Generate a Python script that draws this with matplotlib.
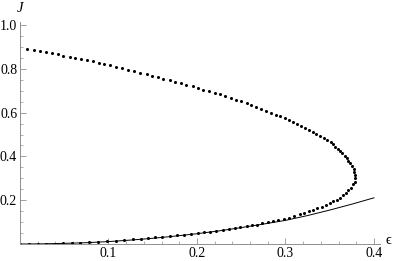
import matplotlib
matplotlib.use("Agg")
import matplotlib.pyplot as plt
from matplotlib.ticker import MultipleLocator

# dotted branch, upper part (from eps=0 down to the turning point)
upper_eps = [0.008, 0.016, 0.023, 0.029, 0.036, 0.043, 0.049, 0.056, 0.062, 0.069,
             0.076, 0.082, 0.089, 0.095, 0.102, 0.108, 0.115, 0.122, 0.129, 0.136,
             0.143, 0.149, 0.156, 0.162, 0.169, 0.175, 0.182, 0.188, 0.195, 0.201,
             0.207, 0.214, 0.220, 0.226, 0.232, 0.238, 0.244, 0.250, 0.256, 0.261,
             0.267, 0.272, 0.278, 0.284, 0.289, 0.294, 0.299, 0.304, 0.308, 0.313,
             0.318, 0.322, 0.327, 0.331, 0.335, 0.339, 0.344, 0.347, 0.351, 0.354,
             0.356, 0.359, 0.362, 0.364, 0.367, 0.369, 0.371, 0.373, 0.375, 0.377,
             0.377, 0.378, 0.379]
upper_J = [0.891, 0.886, 0.881, 0.876, 0.871, 0.866, 0.861, 0.856, 0.850, 0.845,
           0.839, 0.834, 0.828, 0.822, 0.816, 0.810, 0.804, 0.797, 0.790, 0.783,
           0.776, 0.769, 0.762, 0.755, 0.748, 0.741, 0.734, 0.727, 0.720, 0.712,
           0.705, 0.698, 0.690, 0.683, 0.675, 0.667, 0.659, 0.651, 0.642, 0.634,
           0.625, 0.617, 0.608, 0.600, 0.591, 0.583, 0.574, 0.566, 0.557, 0.548,
           0.539, 0.530, 0.521, 0.512, 0.503, 0.494, 0.485, 0.475, 0.465, 0.455,
           0.445, 0.435, 0.425, 0.415, 0.404, 0.393, 0.381, 0.369, 0.356, 0.343,
           0.329, 0.315, 0.300]

# dotted branch, lower part (turning point back to the origin)
lower_eps = [0.378, 0.376, 0.374, 0.371, 0.368, 0.365, 0.362, 0.358, 0.354, 0.350,
             0.346, 0.341, 0.336, 0.331, 0.327, 0.321, 0.316, 0.310, 0.304, 0.298,
             0.292, 0.286, 0.280, 0.274, 0.268, 0.262, 0.256, 0.249, 0.243, 0.236,
             0.229, 0.222, 0.215, 0.208, 0.201, 0.193, 0.185, 0.177, 0.169, 0.161,
             0.153, 0.145, 0.137, 0.128, 0.118, 0.108, 0.098, 0.088, 0.078, 0.068,
             0.059, 0.049, 0.039, 0.029, 0.020, 0.010, 0.000]
lower_J = [0.285, 0.272, 0.258, 0.245, 0.233, 0.222, 0.212, 0.203, 0.195, 0.187,
           0.179, 0.171, 0.163, 0.156, 0.149, 0.142, 0.135, 0.128, 0.121, 0.115,
           0.109, 0.104, 0.099, 0.094, 0.089, 0.085, 0.081, 0.077, 0.073, 0.069,
           0.065, 0.061, 0.057, 0.053, 0.050, 0.046, 0.043, 0.039, 0.036, 0.033,
           0.030, 0.027, 0.024, 0.021, 0.018, 0.015, 0.012, 0.010, 0.008, 0.006,
           0.0045, 0.003, 0.002, 0.001, 0.0005, 0.0001, 0.0]

# solid curve
line_eps = [0.0, 0.025, 0.05, 0.075, 0.1, 0.125, 0.15, 0.175, 0.2, 0.225,
            0.25, 0.275, 0.3, 0.325, 0.35, 0.375, 0.4]
line_J = [0.0, 0.0007, 0.003, 0.006, 0.011, 0.018, 0.026, 0.036, 0.047, 0.060,
          0.075, 0.091, 0.108, 0.130, 0.155, 0.182, 0.211]

x_ticks = [0.1, 0.2, 0.3, 0.4]
y_ticks = [0.2, 0.4, 0.6, 0.8, 1.0]

serif = ["Liberation Serif", "DejaVu Serif"]
plt.rcParams["font.family"] = serif

fig = plt.figure(figsize=(3.95, 2.61), dpi=100)
ax = fig.add_axes([0.0506, 0.0651, 0.9114, 0.8506])

ax.plot(upper_eps, upper_J, "o", color="black", markersize=2.2, markeredgewidth=0)
ax.plot(lower_eps, lower_J, "o", color="black", markersize=2.2, markeredgewidth=0)
ax.plot(line_eps, line_J, "-", color="black", linewidth=0.7)

ax.set_xlim(0, 0.4068)
ax.set_ylim(0, 1.014)

# mathematica style axes: gray, ticks pointing in
for side in ["top", "right"]:
    ax.spines[side].set_visible(False)
for side in ["left", "bottom"]:
    ax.spines[side].set_color("#909090")
    ax.spines[side].set_linewidth(0.7)

ax.set_xticks(x_ticks)
ax.set_xticklabels([f"{v:.1f}" for v in x_ticks], fontfamily=serif, fontsize=10)
ax.set_yticks(y_ticks)
ax.set_yticklabels([f"{v:.1f}" for v in y_ticks], fontfamily=serif, fontsize=10)
ax.xaxis.set_minor_locator(MultipleLocator(0.02))
ax.yaxis.set_minor_locator(MultipleLocator(0.05))
ax.tick_params(which="major", direction="in", length=4, width=0.6,
               color="#909090", pad=2)
ax.tick_params(which="minor", direction="in", length=2, width=0.5, color="#909090")

fig.text(20 / 395, 1 - 9 / 261, "J", fontsize=10.5, family=serif, style="italic",
         ha="center", va="center")
fig.text(388 / 395, 1 - 240 / 261, "\u03f5", fontsize=10.5, family=serif,
         ha="center", va="center")

fig.savefig("out.png", dpi=100)
